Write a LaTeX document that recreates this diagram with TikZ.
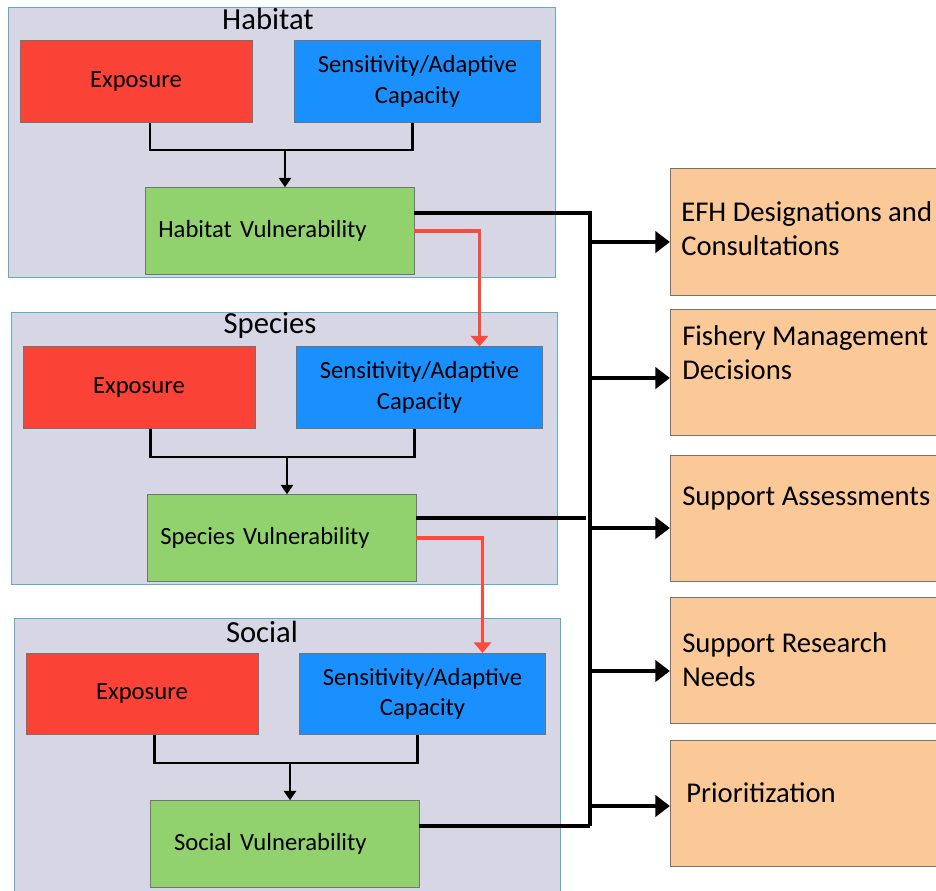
\documentclass[tikz,border=0pt]{standalone}
\usepackage{fontspec}
\setmainfont{Carlito}
\usetikzlibrary{arrows.meta}
\usepackage{xcolor}

\definecolor{grpgray}{RGB}{214,214,228}
\definecolor{grpline}{RGB}{92,174,198}
\definecolor{expred}{RGB}{250,66,54}
\definecolor{senblue}{RGB}{26,144,255}
\definecolor{vulgreen}{RGB}{146,210,110}
\definecolor{useorange}{RGB}{251,201,152}
\definecolor{feedred}{RGB}{250,74,62}

\begin{document}
\begin{tikzpicture}[x=0.75pt,y=-0.75pt,
  grp/.style={fill=grpgray,draw=grpline,line width=0.7pt},
  ttl/.style={font=\fontsize{23}{27}\selectfont,inner sep=0pt},
  expo/.style={fill=expred,draw=black!55,line width=0.6pt,minimum width=174pt,minimum height=61pt,inner sep=2pt,align=center,font=\fontsize{18.5}{23}\selectfont},
  sens/.style={expo,fill=senblue,minimum width=184pt},
  vuln/.style={expo,fill=vulgreen,minimum height=65pt,inner xsep=10pt,text width=181.75pt,align=left},
  usebox/.style={fill=useorange,draw=black!55,line width=0.6pt,minimum width=220pt,minimum height=95pt},
  usetext/.style={anchor=north west,inner sep=0pt,align=left,font=\fontsize{21.5}{26}\selectfont},
  pair/.style={line width=2.2pt},
  dropline/.style={pair,-{Triangle[width=9pt,length=7pt]}},
  redline/.style={feedred,line width=2.4pt,-{Triangle[width=13pt,length=8pt]}},
  busline/.style={line width=3pt},
  usearrow/.style={line width=3pt,-{Triangle[width=16pt,length=11pt]}}
]
\useasboundingbox (0,0) rectangle (936,890);

% groups
\draw [grp] (8,7) rectangle (555,277);
\draw [grp] (11,312) rectangle (557,584);
\draw [grp] (14,618) rectangle (560,895);
\node [ttl] (htitle) at (268,19) {Habitat};
\node [ttl] (stitle) at (270,325) {Species};
\node [ttl] (ctitle) at (262,632) {Social};

% habitat
\node [expo] (hexp) at (136,81.5) {Exposure};
\node [sens] (hsen) at (417.5,81.5) {Sensitivity/Adaptive\\Capacity};
\node [vuln] (hvul) at (279.5,231) {Habitat Vulnerability};
\coordinate (hjoin) at (285,150);
\draw [pair] ([xshift=10.5pt]hexp.south) |- (hjoin) -| ([xshift=-4pt]hsen.south);
\draw [dropline] (hjoin) -- (hjoin |- hvul.north);

% species
\node [expo] (sexp) at (139,387.5) {Exposure};
\node [sens] (ssen) at (419.5,387.5) {Sensitivity/Adaptive\\Capacity};
\node [vuln] (svul) at (281.5,538) {Species Vulnerability};
\coordinate (sjoin) at (287,457);
\draw [pair] ([xshift=8.5pt]sexp.south) |- (sjoin) -| ([xshift=-3.5pt]ssen.south);
\draw [dropline] (sjoin) -- (sjoin |- svul.north);

% social
\node [expo] (cexp) at (142,694) {Exposure};
\node [sens] (csen) at (422.5,694) {Sensitivity/Adaptive\\Capacity};
\node [vuln] (cvul) at (284.5,844) {\hspace*{8pt}Social Vulnerability};
\coordinate (cjoin) at (290,763);
\draw [pair] ([xshift=9.5pt]cexp.south) |- (cjoin) -| ([xshift=-3.5pt]csen.south);
\draw [dropline] (cjoin) -- (cjoin |- cvul.north);

% feed into the next level
\draw [redline] (hvul.east) -| ([xshift=45pt]ssen.north);
\draw [redline] (svul.east) -| ([xshift=45pt]csen.north);

% uses
\node [usebox] (efh) at (817,232) {};
\node [usebox] (fmd) at (817,372.5) {};
\node [usebox] (sas) at (817,518.5) {};
\node [usebox] (srn) at (817,660.5) {};
\node [usebox] (pri) at (817,803.5) {};
\node [usetext] (efht) at (681,201) {EFH Designations and\\Consultations};
\node [usetext] (fmdt) at (682,325) {Fishery Management\\Decisions};
\node [usetext] (sast) at (682,487) {Support Assessments};
\node [usetext] (srnt) at (682,632) {Support Research\\Needs};
\node [usetext] (prit) at (686,782) {Prioritization};

% bus to the uses
\coordinate (bustop) at (590,213);
\coordinate (busmid) at (586,518);
\coordinate (busend) at (590,826);
\draw [busline] (hvul.east |- bustop) -- (bustop) -- (busend);
\draw [busline] (svul.east |- busmid) -- (busmid);
\draw [busline] (cvul.east |- busend) -- (busend);

\coordinate (b1) at (592,242);
\coordinate (b2) at (592,378);
\coordinate (b3) at (592,528);
\coordinate (b4) at (592,671);
\coordinate (b5) at (590,806);
\draw [usearrow] (b1) -- (b1 -| efh.west);
\draw [usearrow] (b2) -- (b2 -| fmd.west);
\draw [usearrow] (b3) -- (b3 -| sas.west);
\draw [usearrow] (b4) -- (b4 -| srn.west);
\draw [usearrow] (b5) -- (b5 -| pri.west);

\end{tikzpicture}
\end{document}
